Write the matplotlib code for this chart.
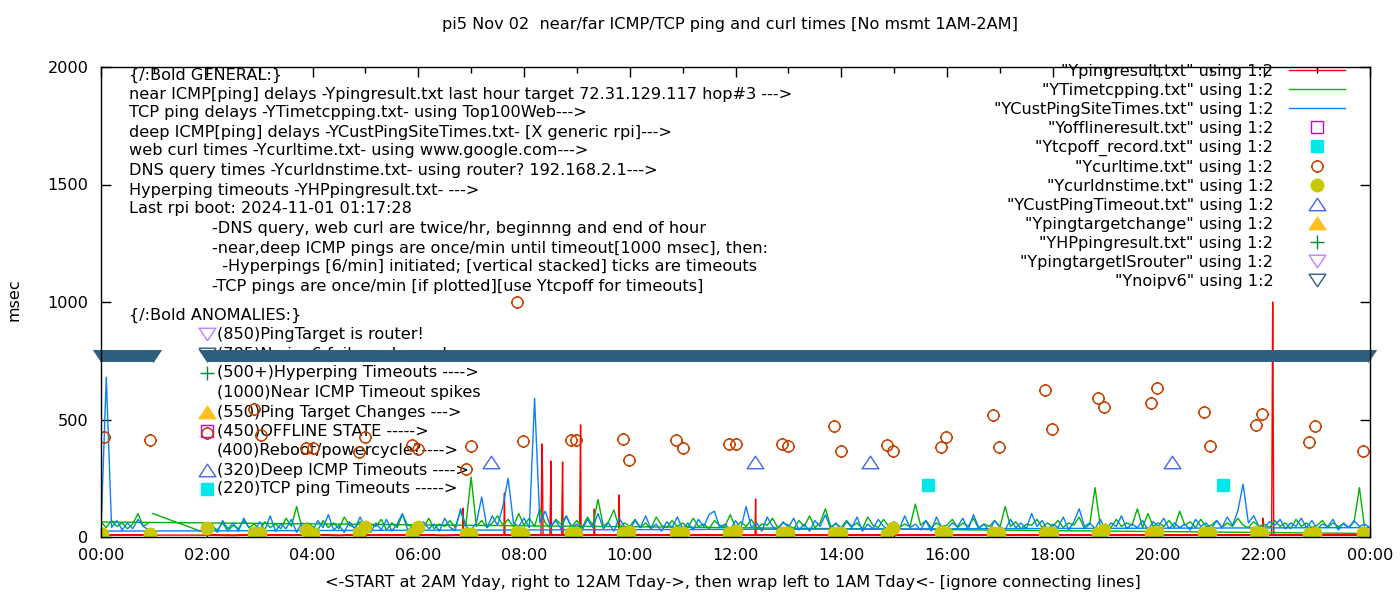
import numpy as np
import matplotlib
matplotlib.use("Agg")
import matplotlib.pyplot as plt
from matplotlib.path import Path
import matplotlib.transforms as mtransforms

plt.rcParams['font.family'] = ['DejaVu Sans']

# ------------------------------------------------------------------ data
hour_ticks = [0, 2, 4, 6, 8, 10, 12, 14, 16, 18, 20, 22, 24]
hour_labels = ["00:00", "02:00", "04:00", "06:00", "08:00", "10:00", "12:00",
               "14:00", "16:00", "18:00", "20:00", "22:00", "00:00"]
y_ticks = [0, 500, 1000, 1500, 2000]

# dense series: main run 02:00 -> 24:00 every 0.1 h, wrap run 00:00 -> 00:54
main_step = 0.1
main_first, main_last = 2.0, 24.0
wrap_first, wrap_last = 0.0, 0.9

# YCustPingSiteTimes (deep ICMP), blue
cust_main = [
    30, 55, 20, 70, 35, 60, 25, 80, 40, 20,
    65, 30, 90, 25, 55, 35, 75, 20, 60, 45,
    25, 70, 40, 95, 30, 50, 20, 65, 35, 85,
    40, 20, 60, 30, 75, 25, 55, 100, 30, 45,
    20, 65, 35, 55, 25, 80, 40, 30, 120, 45,
    30, 60, 170, 40, 90, 50, 130, 250, 60, 45,
    80, 40, 590, 60, 110, 45, 70, 35, 90, 40,
    55, 30, 75, 40, 100, 35, 60, 25, 80, 45,
    30, 70, 40, 90, 35, 55, 25, 65, 40, 85,
    35, 60, 30, 75, 45, 95, 110, 40, 55, 30,
    70, 35, 130, 40, 60, 25, 85, 45, 30, 65,
    40, 80, 30, 55, 25, 70, 45, 95, 35, 60,
    30, 65, 40, 85, 25, 55, 35, 75, 45, 30,
    60, 35, 90, 40, 55, 30, 70, 25, 85, 40,
    35, 60, 45, 80, 30, 95, 40, 55, 25, 70,
    45, 30, 75, 40, 60, 35, 100, 45, 70, 30,
    55, 40, 85, 30, 65, 120, 45, 60, 35, 75,
    30, 60, 45, 90, 35, 55, 40, 70, 30, 65,
    45, 80, 35, 60, 40, 55, 30, 75, 45, 60,
    35, 70, 40, 85, 50, 110, 225, 60, 90, 45,
    40, 65, 50, 75, 35, 60, 45, 80, 40, 70,
    35, 55, 45, 75, 30, 60, 40, 70, 45, 55,
    40]
cust_wrap = [25, 680, 40, 70, 30, 60, 35, 75, 45, 30]

# YTimetcpping (TCP ping), green
tcp_lead_time, tcp_lead_value = 0.98, 100
tcp_main = [
    15, 45, 30, 60, 25, 50, 35, 70, 40, 55,
    30, 65, 40, 55, 35, 80, 45, 130, 40, 60,
    45, 30, 70, 40, 60, 35, 85, 50, 40, 65,
    35, 55, 45, 75, 30, 60, 40, 95, 50, 45,
    60, 40, 80, 35, 55, 45, 70, 40, 110, 50,
    255, 45, 70, 40, 60, 90, 50, 75, 45, 100,
    50, 80, 45, 120, 60, 40, 75, 55, 90, 45,
    70, 40, 85, 50, 160, 45, 65, 115, 40, 60,
    45, 75, 40, 60, 35, 85, 50, 40, 70, 45,
    60, 40, 80, 45, 55, 35, 70, 50, 45, 95,
    40, 65, 45, 75, 35, 55, 50, 80, 40, 60,
    50, 35, 70, 45, 90, 40, 60, 120, 45, 55,
    40, 70, 45, 60, 35, 85, 50, 40, 75, 45,
    65, 40, 55, 45, 140, 50, 70, 40, 60, 45,
    50, 75, 40, 60, 45, 80, 35, 55, 45, 70,
    40, 130, 45, 65, 35, 55, 50, 75, 40, 60,
    45, 70, 40, 60, 50, 85, 35, 55, 210, 45,
    55, 40, 75, 45, 60, 50, 120, 40, 100, 45,
    60, 45, 70, 40, 110, 50, 65, 40, 75, 45,
    50, 70, 40, 60, 45, 80, 50, 40, 65, 45,
    55, 40, 70, 45, 60, 35, 75, 45, 60, 40,
    50, 70, 40, 60, 45, 55, 40, 65, 210, 35,
    15]
tcp_wrap = [64, 40, 70, 45, 60, 35, 55, 100, 45, 60]

# Ypingresult (near ICMP), red
ping_times = [
    2.0, 2.5, 3.0, 3.5, 4.0, 4.5, 5.0, 5.5, 6.0, 6.5,
    6.84, 6.85, 6.86, 7.2, 7.62, 7.63, 7.64, 8.0,
    8.32, 8.33, 8.34, 8.35, 8.36, 8.49, 8.50, 8.51, 8.52,
    8.71, 8.72, 8.73, 8.74, 9.05, 9.06, 9.07, 9.08,
    9.32, 9.33, 9.34, 9.79, 9.80, 9.81,
    10.5, 11.0, 11.5, 12.0, 12.37, 12.38, 12.39,
    13.0, 14.0, 15.0, 16.0, 17.0, 18.0, 19.0, 20.0, 21.0,
    21.97, 21.98, 21.99, 22.14, 22.15, 22.16, 22.17, 22.18,
    23.0, 24.0,
    0.0, 0.5, 0.9]
ping_values = [
    8, 6, 10, 7, 9, 6, 10, 7, 9, 6,
    8, 123, 8, 9, 8, 187, 8, 10,
    8, 200, 396, 264, 8, 8, 162, 323, 8,
    8, 162, 319, 8, 8, 243, 477, 8,
    8, 119, 8, 8, 179, 8,
    9, 7, 10, 8, 8, 162, 8,
    9, 7, 10, 8, 9, 7, 10, 8, 9,
    8, 80, 8, 8, 500, 1000, 500, 8,
    9, 8,
    8, 9, 7]

# Ycurltime (web curl), open circles
curl_times = [0.06, 0.93, 2.01, 2.9, 3.03, 3.88, 4.01, 4.88, 5.0, 5.89,
              6.0, 6.9, 7.0, 7.87, 7.99, 8.88, 8.99, 9.88, 9.99, 10.88,
              11.0, 11.87, 12.0, 12.87, 12.99, 13.87, 13.99, 14.86, 14.97, 15.88,
              15.98, 16.87, 16.98, 17.85, 17.98, 18.85, 18.97, 19.86, 19.97, 20.86,
              20.97, 21.84, 21.96, 22.85, 22.96, 23.87]
curl_values = [425, 413, 443, 545, 434, 379, 379, 362, 425, 391,
               374, 289, 387, 1000, 408, 412, 412, 417, 328, 412,
               379, 396, 396, 396, 387, 472, 366, 391, 366, 383,
               425, 519, 383, 625, 460, 591, 553, 570, 634, 532,
               387, 477, 523, 404, 472, 366]

# Ycurldnstime (DNS query), filled circles
dns_times = [0.02, 0.93, 2.01, 2.9, 3.0, 3.88, 4.01, 4.88, 5.0, 5.89,
             6.0, 6.9, 7.0, 7.87, 7.99, 8.88, 8.99, 9.88, 9.99, 10.88,
             11.0, 11.87, 12.0, 12.87, 12.99, 13.87, 13.99, 14.86, 14.97, 15.88,
             15.98, 16.87, 16.98, 17.85, 17.98, 18.85, 18.97, 19.86, 19.97, 20.86,
             20.97, 21.84, 21.96, 22.85, 22.96, 23.87]
dns_values = [13, 13, 38, 17, 17, 30, 13, 17, 43, 13,
              43, 13, 13, 21, 13, 17, 17, 17, 21, 17,
              17, 17, 26, 17, 17, 17, 17, 13, 38, 21,
              17, 17, 17, 17, 17, 17, 30, 17, 21, 17,
              17, 21, 17, 13, 17, 17]

# YCustPingTimeout (deep ICMP timeouts)
custto_times = [7.38, 12.36, 14.54, 20.25]
custto_values = [320, 320, 320, 320]

# Ytcpoff_record (TCP ping timeouts)
tcpoff_times = [15.65, 21.22]
tcpoff_values = [220, 220]

# Ynoipv6 : logged every minute in two runs (start, end) at 785 msec
noipv6_runs = [(0.0, 0.98), (2.0, 23.97)]
noipv6_value = 785

legend_names = ['"Ypingresult.txt" using 1:2', '"YTimetcpping.txt" using 1:2',
                '"YCustPingSiteTimes.txt" using 1:2', '"Yofflineresult.txt" using 1:2',
                '"Ytcpoff_record.txt" using 1:2', '"Ycurltime.txt" using 1:2',
                '"Ycurldnstime.txt" using 1:2', '"YCustPingTimeout.txt" using 1:2',
                '"Ypingtargetchange" using 1:2', '"YHPpingresult.txt" using 1:2',
                '"YpingtargetISrouter" using 1:2', '"Ynoipv6" using 1:2']

general_lines = [
    "{/:Bold GENERAL:}",
    "near ICMP[ping] delays -Ypingresult.txt last hour target 72.31.129.117 hop#3 --->",
    "TCP ping delays -YTimetcpping.txt- using Top100Web--->",
    "deep ICMP[ping] delays -YCustPingSiteTimes.txt- [X generic rpi]--->",
    "web curl times -Ycurltime.txt- using www.google.com--->",
    "DNS query times -Ycurldnstime.txt- using router? 192.168.2.1--->",
    "Hyperping timeouts -YHPpingresult.txt- --->",
    "Last rpi boot: 2024-11-01 01:17:28",
]
note_lines = [
    "-DNS query, web curl are twice/hr, beginnng and end of hour",
    "-near,deep ICMP pings are once/min until timeout[1000 msec], then:",
    "  -Hyperpings [6/min] initiated; [vertical stacked] ticks are timeouts",
    "-TCP pings are once/min [if plotted][use Ytcpoff for timeouts]",
]
anomaly_lines = [
    "(850)PingTarget is router!",
    "(785)No ipv6 failures logged",
    "(500+)Hyperping Timeouts ---->",
    "(1000)Near ICMP Timeout spikes",
    "(550)Ping Target Changes --->",
    "(450)OFFLINE STATE ----->",
    "(400)Reboot/powercycle?---->",
    "(320)Deep ICMP Timeouts ---->",
    "(220)TCP ping Timeouts ----->",
]

title_text = "pi5 Nov 02  near/far ICMP/TCP ping and curl times [No msmt 1AM-2AM]"
xlabel_text = "<-START at 2AM Yday, right to 12AM Tday->, then wrap left to 1AM Tday<- [ignore connecting lines]"
ylabel_text = "msec"

# ------------------------------------------------------------------ styles
C_RED = "#ff0000"
C_GREEN = "#00b400"
C_BLUE = "#0a80f5"
C_PURPLE = "#c000ff"
C_CYAN = "#00e8e8"
C_CURL = "#c44000"
C_DNS = "#c8c800"
C_TRI = "#4169e1"
C_ORANGE = "#ffc020"
C_PLUS = "#008a3a"
C_LAV = "#c080ff"
C_NOIP = "#2e5f7f"
FS = 11.6

up_tri = Path([(0, 0.75), (-1, -0.75), (1, -0.75), (0, 0.75)],
              [Path.MOVETO, Path.LINETO, Path.LINETO, Path.CLOSEPOLY])
dn_tri = Path([(0, -0.75), (-1, 0.75), (1, 0.75), (0, -0.75)],
              [Path.MOVETO, Path.LINETO, Path.LINETO, Path.CLOSEPOLY])
tick_path = Path([(1.0, 0), (1.2, 0), (-1.0, 0), (-1.2, 0), (0, 1.0), (0, 1.2), (0, -1.0), (0, -1.2)],
                 [Path.MOVETO, Path.LINETO] * 4)
curl_marker = Path.make_compound_path(Path.unit_circle(), tick_path)

W, H = 1400, 600
L, R, T, B = 101, 1370, 67, 537

fig = plt.figure(figsize=(W / 100, H / 100), dpi=100)
ax = fig.add_axes([L / W, 1 - B / H, (R - L) / W, (B - T) / H])
ax.set_xlim(0, 24)
ax.set_ylim(0, 2000)


def fx(x):
    return (x - L) / (R - L)


def fy(y):
    return (B - y) / (B - T)


# ------------------------------------------------------------------ series
main_times = np.round(np.arange(main_first, main_last + main_step / 2, main_step), 2)
wrap_times = np.round(np.arange(wrap_first, wrap_last + main_step / 2, main_step), 2)

ping_h, = ax.plot(ping_times, ping_values, color=C_RED, lw=1.0, zorder=3)
tcp_t = np.concatenate([[tcp_lead_time], main_times, wrap_times])
tcp_v = np.concatenate([[tcp_lead_value], tcp_main, tcp_wrap])
tcp_h, = ax.plot(tcp_t, tcp_v, color=C_GREEN, lw=1.0, zorder=4)
cust_t = np.concatenate([main_times, wrap_times])
cust_v = np.concatenate([cust_main, cust_wrap])
cust_h, = ax.plot(cust_t, cust_v, color=C_BLUE, lw=1.0, zorder=5)

off_h, = ax.plot([], [], ls='none', marker='s', ms=8.8, mfc='none', mec=C_PURPLE, mew=1.0)
tcpoff_h, = ax.plot(tcpoff_times, tcpoff_values, ls='none', marker='s', ms=9.3,
                    mfc=C_CYAN, mec=C_CYAN, zorder=6)
curl_h, = ax.plot(curl_times, curl_values, ls='none', marker=curl_marker, ms=9.5,
                  mfc='none', mec=C_CURL, mew=1.1, zorder=7)
dns_h, = ax.plot(dns_times, dns_values, ls='none', marker='o', ms=10,
                 mfc=C_DNS, mec=C_DNS, mew=0, zorder=8)
custto_h, = ax.plot(custto_times, custto_values, ls='none', marker=up_tri, ms=12,
                    mfc='none', mec=C_TRI, mew=1.0, zorder=9)
tchg_h, = ax.plot([], [], ls='none', marker=up_tri, ms=12, mfc=C_ORANGE, mec=C_ORANGE)
hp_h, = ax.plot([], [], ls='none', marker='+', ms=10, mec=C_PLUS, mew=1.0)
router_h, = ax.plot([], [], ls='none', marker=dn_tri, ms=12, mfc='none', mec=C_LAV, mew=1.0)
noip_h, = ax.plot([], [], ls='none', marker=dn_tri, ms=12, mfc='none', mec=C_NOIP, mew=1.0)

# Ynoipv6 dense run of down-triangles -> band
band_trans = mtransforms.offset_copy(ax.transData, fig=fig, x=0, y=-3.5, units='dots')
for (s, e) in noipv6_runs:
    ax.plot([s, e], [noipv6_value, noipv6_value], color=C_NOIP, lw=8.6,
            solid_capstyle='butt', transform=band_trans, zorder=10, clip_on=False)
    ax.plot([s, e], [noipv6_value, noipv6_value], ls='none', marker=dn_tri, ms=12.5,
            mfc=C_NOIP, mec=C_NOIP, mew=0, transform=band_trans, zorder=10, clip_on=False)

# ------------------------------------------------------------------ axes
ax.set_xticks(hour_ticks)
ax.set_xticklabels(hour_labels)
ax.set_xticks(range(25), minor=True)
ax.set_yticks(y_ticks)
ax.tick_params(axis='both', which='major', direction='in', top=True, right=True,
               length=7, width=1, labelsize=FS, color='black')
ax.tick_params(axis='x', which='major', pad=8)
ax.tick_params(axis='y', which='major', pad=9)
ax.tick_params(axis='x', which='minor', direction='in', top=True, length=4, width=1)
for sp in ax.spines.values():
    sp.set_linewidth(1.0)
    sp.set_zorder(20)

fig.text(730 / W, 1 - 25 / H, title_text, ha='center', va='center', fontsize=FS)
fig.text(733 / W, 1 - 583 / H, xlabel_text, ha='center', va='center', fontsize=FS)
fig.text(14 / W, 1 - 300 / H, ylabel_text, ha='center', va='center', fontsize=FS, rotation=90)

# ------------------------------------------------------------------ annotations
gen_y = [75, 94, 113, 132, 151, 171, 190, 209]
for s, yy in zip(general_lines, gen_y):
    ax.text(fx(129), fy(yy), s, transform=ax.transAxes, ha='left', va='center',
            fontsize=FS, zorder=1)
note_y = [229, 248, 267, 286]
for s, yy in zip(note_lines, note_y):
    ax.text(fx(212), fy(yy), s, transform=ax.transAxes, ha='left', va='center',
            fontsize=FS, zorder=1)
ax.text(fx(129), fy(315), "{/:Bold ANOMALIES:}", transform=ax.transAxes, ha='left',
        va='center', fontsize=FS, zorder=1)

anom_y = [334, 354, 373, 393, 412, 431, 450, 470, 489]
anom_marks = [router_h, noip_h, hp_h, None, tchg_h, off_h, None, custto_h, tcpoff_h]
for s, yy, mk in zip(anomaly_lines, anom_y, anom_marks):
    ax.text(fx(217), fy(yy), s, transform=ax.transAxes, ha='left', va='center',
            fontsize=FS, zorder=1)
    if mk is not None:
        ax.plot([fx(207)], [fy(yy)], transform=ax.transAxes, ls='none',
                marker=mk.get_marker(), ms=mk.get_markersize(), mfc=mk.get_markerfacecolor(),
                mec=mk.get_markeredgecolor(), mew=mk.get_markeredgewidth(),
                clip_on=False, zorder=1)

# ------------------------------------------------------------------ legend
handles = [ping_h, tcp_h, cust_h, off_h, tcpoff_h, curl_h, dns_h, custto_h,
           tchg_h, hp_h, router_h, noip_h]
leg = ax.legend(handles, legend_names, loc='upper right', markerfirst=False,
                frameon=False, fontsize=FS, numpoints=1, handlelength=3.5,
                handletextpad=0.95, labelspacing=0.245, borderpad=0, borderaxespad=0,
                bbox_to_anchor=(1345 / W, 1 - 64 / H), bbox_transform=fig.transFigure)
leg.set_zorder(30)

fig.savefig("out.png", dpi=100)
